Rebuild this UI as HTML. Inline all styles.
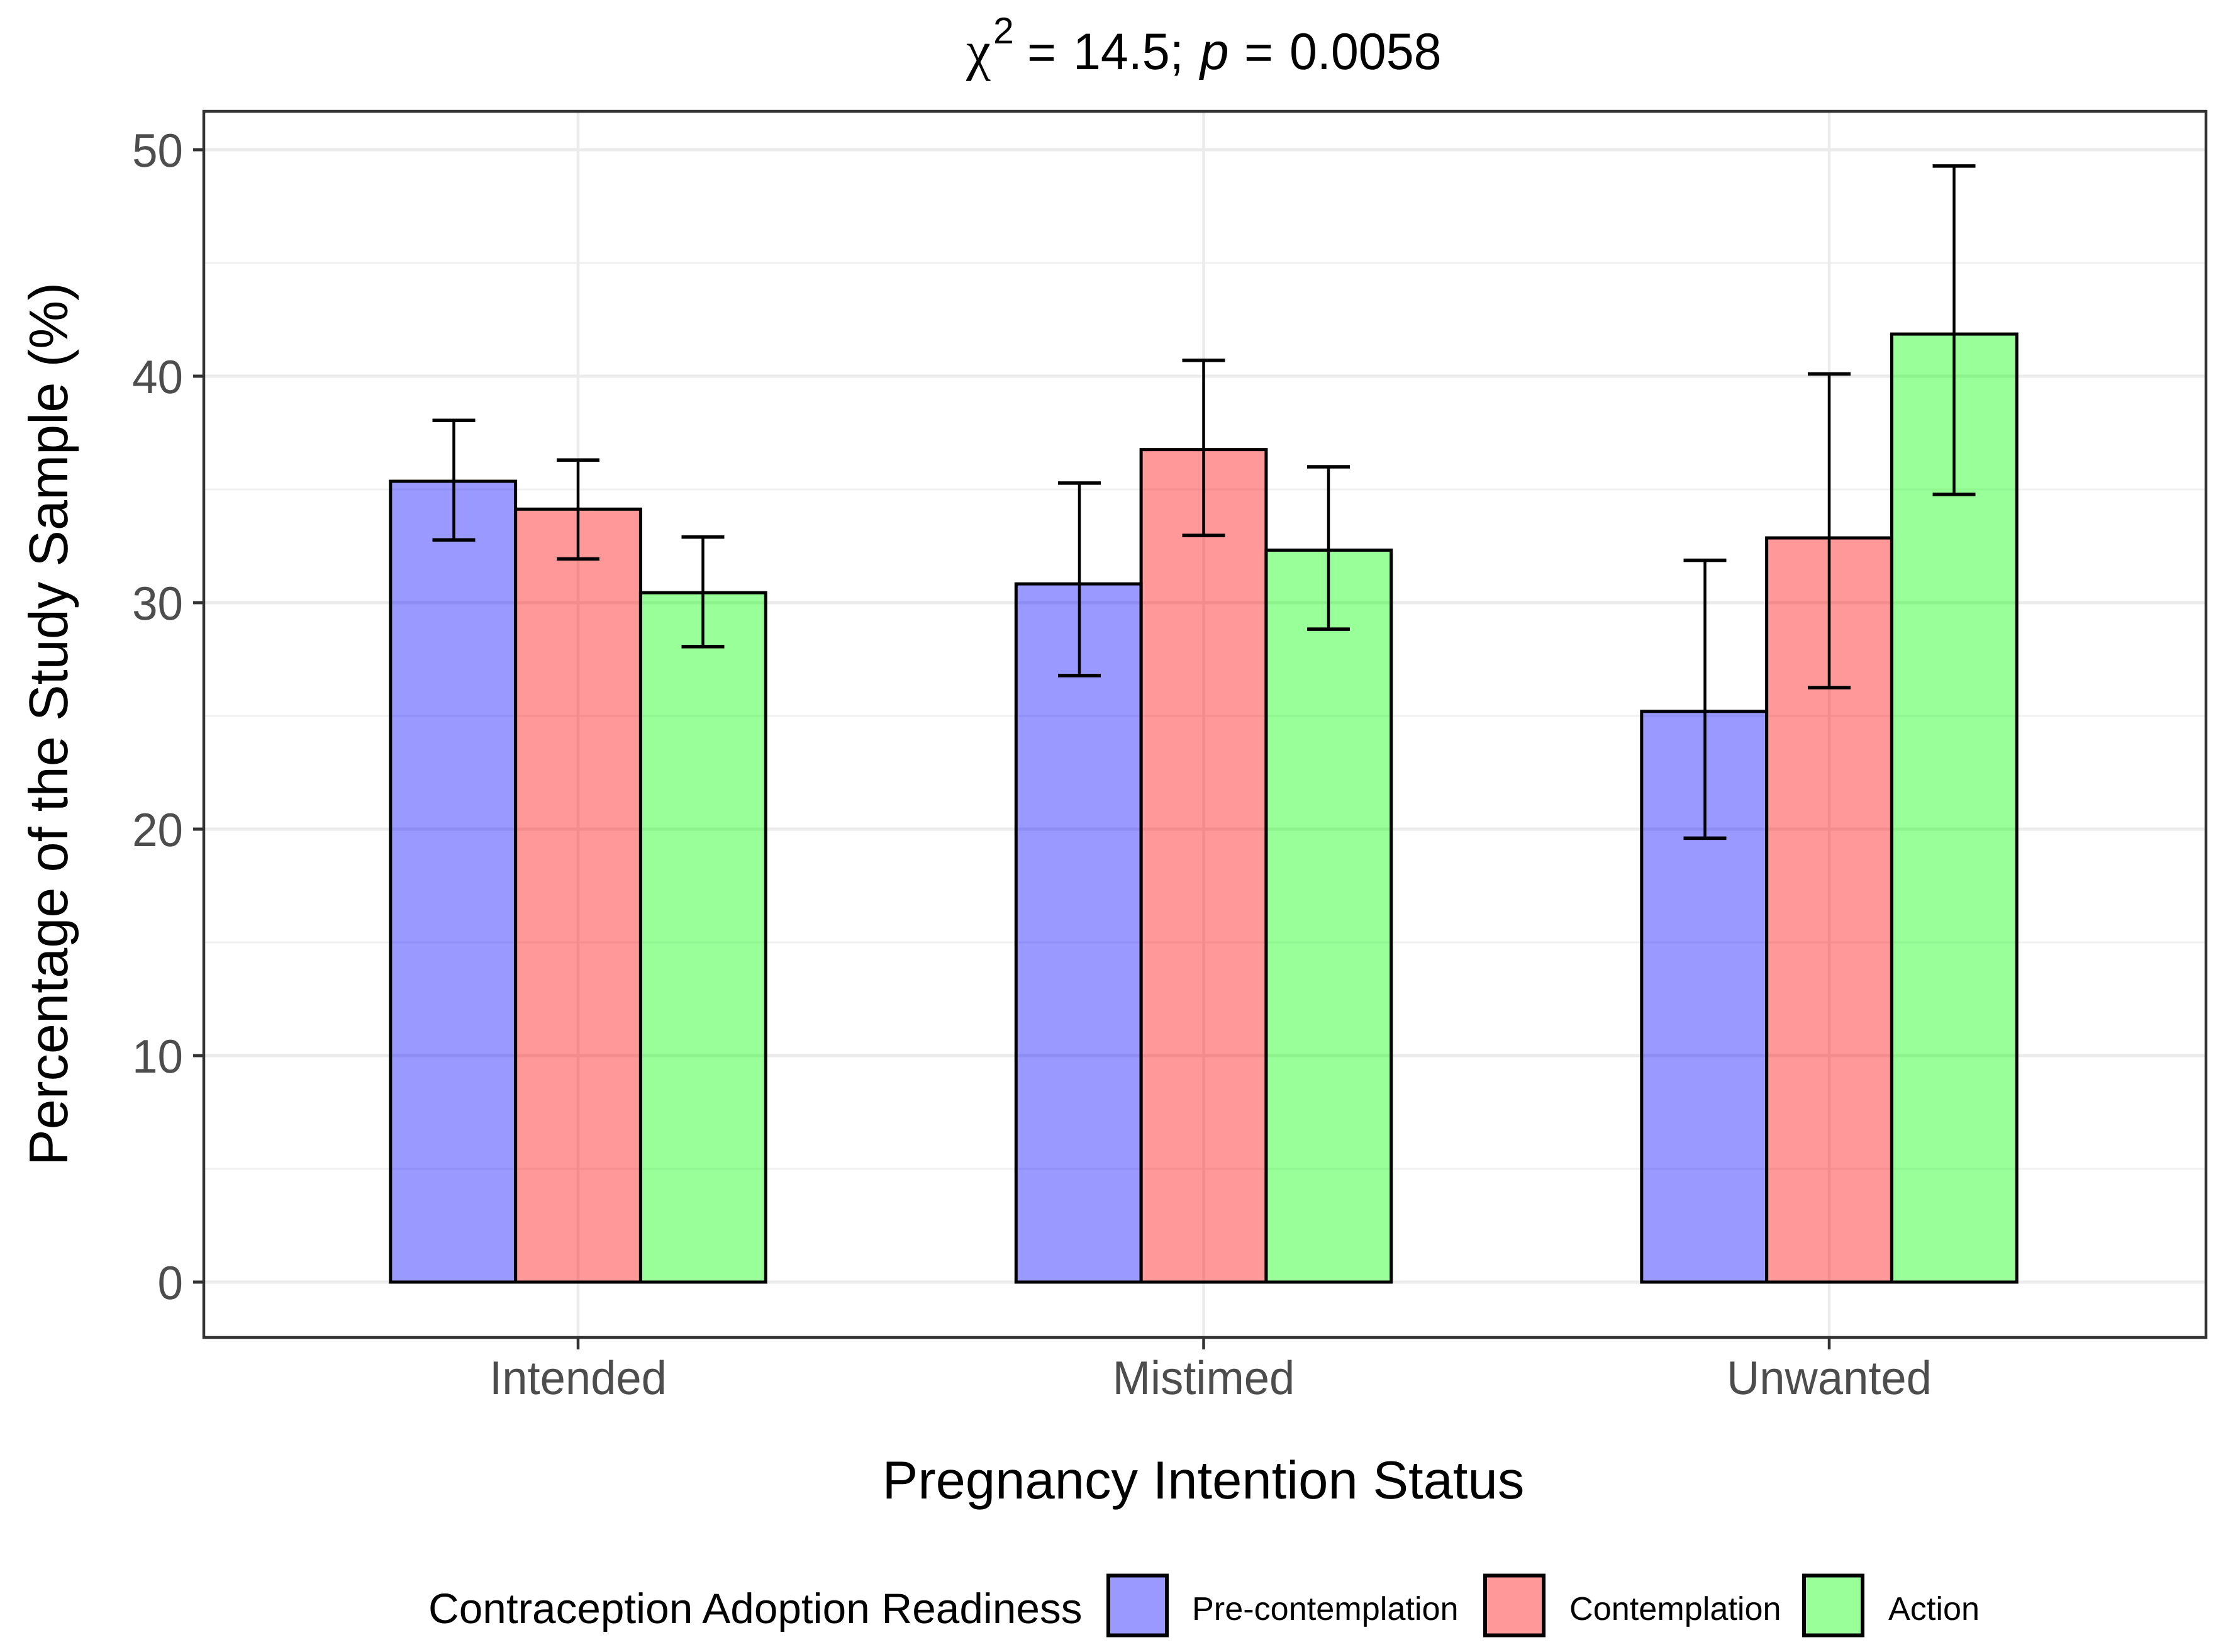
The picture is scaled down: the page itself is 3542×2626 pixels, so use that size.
<!DOCTYPE html>
<html>
<head>
<meta charset="utf-8">
<title>Contraception Adoption Readiness by Pregnancy Intention Status</title>
<style>
html,body{margin:0;padding:0;background:#fff;width:3542px;height:2626px;overflow:hidden}
svg{display:block}
text{font-family:"Liberation Sans",sans-serif;text-rendering:geometricPrecision}
</style>
</head>
<body>
<svg id="chart" xmlns="http://www.w3.org/2000/svg" width="3542" height="2626" viewBox="0 0 3542 2626">
  <rect x="0" y="0" width="3542" height="2626" fill="#ffffff"/>
  <g id="grid"></g>
  <g id="bars"></g>
  <g id="errs"></g>
  <rect x="324" y="177" width="3183" height="1949" fill="none" stroke="#333333" stroke-width="4.5"/>
  <g id="axes"></g>

  <g fill="#000000">
    <text x="1536" y="110" font-size="88" style="font-family:'Liberation Serif',serif">χ</text>
    <text x="1579" y="69" font-size="59">2</text>
    <text x="1633" y="110" font-size="79">=</text>
    <text x="1706" y="110" font-size="82" textLength="175.7" lengthAdjust="spacingAndGlyphs">14.5;</text>
    <text x="1908" y="110" font-size="82" font-style="italic">p</text>
    <text x="1978" y="110" font-size="79">=</text>
    <text x="2050" y="110" font-size="82" textLength="241.6" lengthAdjust="spacingAndGlyphs">0.0058</text>
  </g>

  <text x="1913" y="2382" font-size="85" text-anchor="middle" fill="#000">Pregnancy Intention Status</text>
  <text transform="translate(107,1151) rotate(-90)" x="0" y="0" font-size="87" text-anchor="middle" fill="#000" textLength="1404" lengthAdjust="spacingAndGlyphs">Percentage of the Study Sample (%)</text>

  <g id="legend">
    <text x="681" y="2580" font-size="67.5" fill="#000">Contraception Adoption Readiness</text>
  </g>
</svg>
<script>
var categories = ["Intended", "Mistimed", "Unwanted"];
var seriesNames = ["Pre-contemplation", "Contemplation", "Action"];
var preContemplation = [35.36, 30.83, 25.2];
var contemplation = [34.13, 36.76, 32.86];
var action = [30.44, 32.32, 41.86];
var preContemplationLow = [32.77, 26.78, 19.6];
var preContemplationHigh = [38.05, 35.28, 31.87];
var contemplationLow = [31.93, 32.97, 26.25];
var contemplationHigh = [36.3, 40.7, 40.1];
var actionLow = [28.06, 28.83, 34.78];
var actionHigh = [32.9, 36.0, 49.28];
var yMajorTicks = [0, 10, 20, 30, 40, 50];
var yMinorTicks = [5, 15, 25, 35, 45];

var values = [preContemplation, contemplation, action];
var lows = [preContemplationLow, contemplationLow, actionLow];
var highs = [preContemplationHigh, contemplationHigh, actionHigh];
var fills = ["#0000ff", "#ff0000", "#00ff00"];
var NS = "http://www.w3.org/2000/svg";
var PANEL = {l: 324, r: 3507, t: 177, b: 2126};
var BAR_W = 198.8;

function xScale(i) { return 919 + 994.5 * i; }
function yScale(v) { return 2038 - 36 * v; }
function mk(parent, tag, attrs, txt) {
  var el = document.createElementNS(NS, tag);
  for (var k in attrs) el.setAttribute(k, attrs[k]);
  if (txt !== undefined) el.textContent = txt;
  parent.appendChild(el);
  return el;
}
function narrow(el, f) {
  var w = el.getComputedTextLength();
  el.setAttribute("textLength", (w * f).toFixed(1));
  el.setAttribute("lengthAdjust", "spacingAndGlyphs");
}

var grid = document.getElementById("grid");
var bars = document.getElementById("bars");
var errs = document.getElementById("errs");
var axes = document.getElementById("axes");
var legend = document.getElementById("legend");

yMinorTicks.forEach(function (t) {
  var el = mk(grid, "line", {x1: PANEL.l, x2: PANEL.r, y1: yScale(t), y2: yScale(t), stroke: "#f0f0f0", "stroke-width": 3});
  
  
});
yMajorTicks.forEach(function (t) {
  var g = mk(grid, "line", {x1: PANEL.l, x2: PANEL.r, y1: yScale(t), y2: yScale(t), stroke: "#ebebeb", "stroke-width": 5});
  
  
  var tk = mk(axes, "line", {x1: 307, x2: 324, y1: yScale(t), y2: yScale(t), stroke: "#333333", "stroke-width": 5});
  
  
  var lb = mk(axes, "text", {x: 291, y: yScale(t) + 27, "font-size": 75, "text-anchor": "end", fill: "#4d4d4d"}, String(t));
  
  
  narrow(lb, 0.97);
});
categories.forEach(function (c, i) {
  var g = mk(grid, "line", {x1: xScale(i), x2: xScale(i), y1: PANEL.t, y2: PANEL.b, stroke: "#ebebeb", "stroke-width": 4.5});
  
  
  var tk = mk(axes, "line", {x1: xScale(i), x2: xScale(i), y1: PANEL.b, y2: 2145, stroke: "#333333", "stroke-width": 4.5});
  
  
  var lb = mk(axes, "text", {x: xScale(i), y: 2216, "font-size": 75, "text-anchor": "middle", fill: "#4d4d4d"}, c);
  
  
  narrow(lb, 0.965);

  values.forEach(function (vals, s) {
    var left = xScale(i) + (s - 1.5) * BAR_W;
    var r = mk(bars, "rect", {x: left, y: yScale(vals[i]), width: BAR_W, height: yScale(0) - yScale(vals[i]),
      fill: fills[s], "fill-opacity": 0.4, stroke: "#000000", "stroke-width": 5});
    
    
  });
  values.forEach(function (vals, s) {
    var cx = xScale(i) + (s - 1) * 198.5 + (s === 0 ? 1 : 0);
    var yLo = yScale(lows[s][i]);
    var yHi = yScale(highs[s][i]);
    var stem = mk(errs, "line", {x1: cx, x2: cx, y1: yHi, y2: yLo, stroke: "#000000", "stroke-width": 4.5});
    
    
    var capT = mk(errs, "line", {x1: cx - 34, x2: cx + 34, y1: yHi, y2: yHi, stroke: "#000000", "stroke-width": 5.5});
    
    
    var capB = mk(errs, "line", {x1: cx - 34, x2: cx + 34, y1: yLo, y2: yLo, stroke: "#000000", "stroke-width": 5.5});
    
    
  });
});

var keyLeft = [1762, 2361, 2868];
var labelLeft = [1895, 2495, 3002];
seriesNames.forEach(function (n, s) {
  var bg = mk(legend, "rect", {x: keyLeft[s], y: 2504.5, width: 93, height: 95, fill: "#ffffff"});
  
  
  var key = mk(legend, "rect", {x: keyLeft[s], y: 2504.5, width: 93, height: 95, fill: fills[s], "fill-opacity": 0.4, stroke: "#000000", "stroke-width": 6});
  
  
  var lb = mk(legend, "text", {x: labelLeft[s], y: 2575, "font-size": 52.2, fill: "#000000"}, n);
  
  
});
</script>
</body>
</html>
